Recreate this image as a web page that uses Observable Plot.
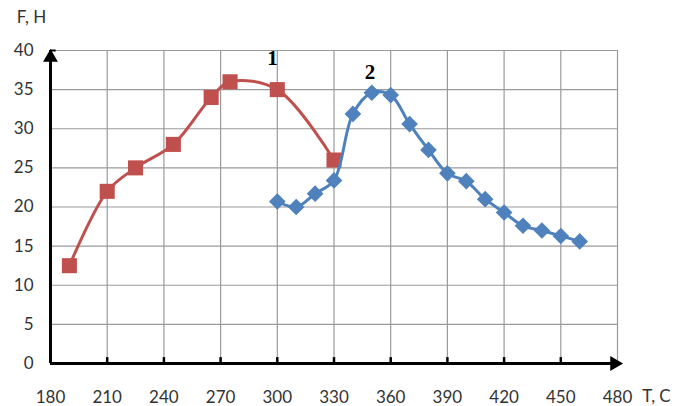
<!DOCTYPE html>
<html><head><meta charset="utf-8">
<script src="https://cdn.jsdelivr.net/npm/d3@7"></script>
<script src="https://cdn.jsdelivr.net/npm/@observablehq/plot@0.6"></script>
<style>body{margin:0;background:#fff}</style>
</head><body><div id="chart"></div>
<script>
const t1 = [190, 210, 225, 245, 265, 275, 300, 330];
const f1 = [12.5, 22, 25, 28, 34, 36, 35, 26];
const t2 = [300, 310, 320, 330, 340, 350, 360, 370, 380, 390, 400, 410, 420, 430, 440, 450, 460];
const f2 = [20.7, 20, 21.7, 23.4, 31.9, 34.6, 34.3, 30.6, 27.3, 24.3, 23.3, 21, 19.3, 17.6, 17, 16.3, 15.6];
const xTicks = [180, 210, 240, 270, 300, 330, 360, 390, 420, 450, 480];
const yTicks = [0, 5, 10, 15, 20, 25, 30, 35, 40];
const seriesLabels = [{x: 297.5, y: 39, t: "1"}, {x: 349, y: 37.2, t: "2"}];

const s1 = t1.map((t, i) => ({t, f: f1[i]}));
const s2 = t2.map((t, i) => ({t, f: f2[i]}));
const red = "#C0504D", blue = "#4F81BD";
const font = "Lato, Liberation Sans, Arial, sans-serif";

const chart = Plot.plot({
  width: 675, height: 406,
  marginLeft: 50, marginRight: 58, marginTop: 50, marginBottom: 43,
  style: {fontFamily: font, fontSize: "17px", color: "#333"},
  x: {domain: [180, 480], ticks: xTicks, label: null},
  y: {domain: [0, 40], ticks: yTicks, label: null},
  marks: [
    Plot.ruleX(xTicks.slice(1), {stroke: "#9a9a9a", strokeWidth: 1.2}),
    Plot.ruleY(yTicks.slice(1), {stroke: "#9a9a9a", strokeWidth: 1.2}),
    Plot.ruleX(xTicks.slice(1, -1), {y1: 0, y2: 0.75, stroke: "#000", strokeWidth: 2.5}),
    Plot.ruleY([40], {x1: 180, x2: 183, stroke: "#000", strokeWidth: 2}),
    Plot.axisX({ticks: xTicks.slice(0, -1), tickSize: 0, tickPadding: 27, fontSize: 17, fill: "#333"}),
    Plot.axisX({ticks: [480], tickSize: 0, tickPadding: 27, fontSize: 17, fill: "#333"}),
    Plot.axisY({ticks: yTicks, tickSize: 0, tickPadding: 17, fontSize: 17, fill: "#333"}),
    Plot.ruleX([180], {y1: 0, y2: 40, stroke: "#000", strokeWidth: 3}),
    Plot.ruleY([0], {x1: 180, x2: 477, stroke: "#000", strokeWidth: 3}),
    Plot.dot([{x: 180, y: 40}], {x: "x", y: "y", symbol: "triangle", r: 5.5, fill: "#000", stroke: null, dy: 7}),
    Plot.dot([{x: 480, y: 0}], {x: "x", y: "y", symbol: "triangle", r: 5.5, fill: "#000", stroke: null, rotate: 90, dx: -3}),
    Plot.line(s1, {x: "t", y: "f", stroke: red, strokeWidth: 3, curve: "catmull-rom"}),
    Plot.dot(s1, {x: "t", y: "f", symbol: "square", r: 8.5, fill: red, stroke: null}),
    Plot.line(s2, {x: "t", y: "f", stroke: blue, strokeWidth: 3, curve: "catmull-rom"}),
    Plot.dot(s2, {x: "t", y: "f", symbol: "diamond2", r: 7.5, fill: blue, stroke: null}),
    Plot.text(seriesLabels, {x: "x", y: "y", text: "t", fontFamily: "Liberation Serif, Times New Roman, serif", fontWeight: "bold", fontSize: 21, fill: "#000"}),
    Plot.text(["F, H"], {x: 180, y: 40, dx: -19, dy: -33, fontSize: 17, fill: "#333"}),
    Plot.text(["T, C"], {x: 480, y: 0, dx: 39, dy: 33, fontSize: 17, fill: "#333"})
  ]
});
document.getElementById("chart").append(chart);
</script></body></html>
